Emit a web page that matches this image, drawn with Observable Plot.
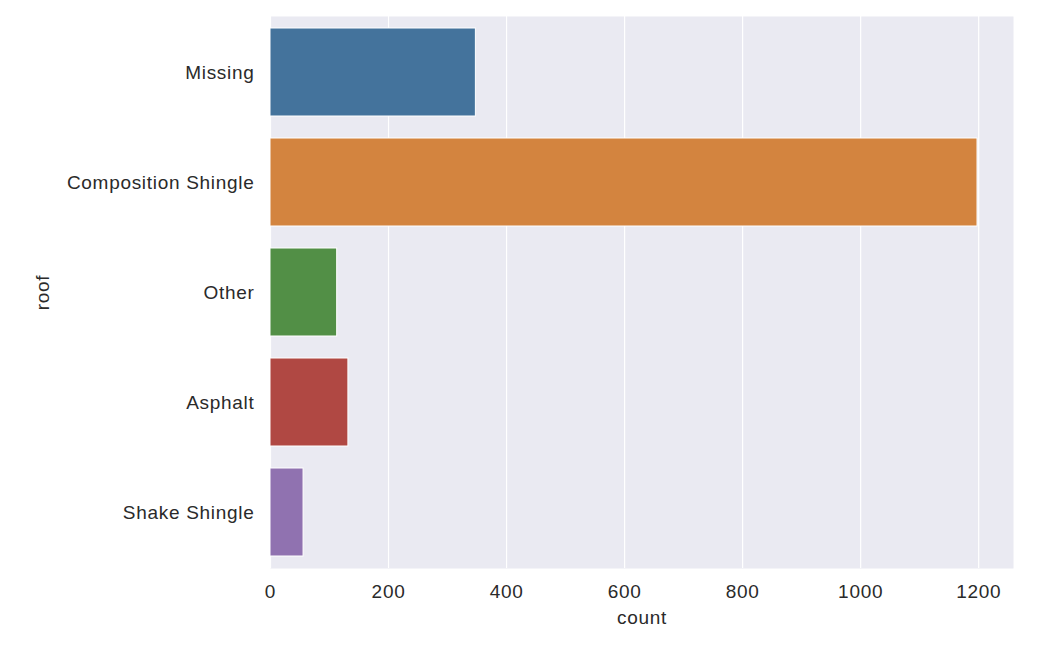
<!DOCTYPE html>
<html>
<head>
<meta charset="utf-8">
<script src="https://cdn.jsdelivr.net/npm/d3@7"></script>
<script src="https://cdn.jsdelivr.net/npm/@observablehq/plot@0.6"></script>
<style>
  html, body { margin: 0; padding: 0; background: #ffffff; }
  #chart svg { display: block; }
</style>
</head>
<body>
<div id="chart"></div>
<script>
const categories = ["Missing", "Composition Shingle", "Other", "Asphalt", "Shake Shingle"];
const counts = [348, 1198, 113, 132, 56];
const colors = ["#44739c", "#d3843f", "#528f46", "#b04843", "#9072b0"];
const xTicks = [0, 200, 400, 600, 800, 1000, 1200];
const xMax = 1259;

const data = categories.map((c, i) => ({roof: c, count: counts[i]}));

const chart = Plot.plot({
  width: 1054,
  height: 662,
  marginLeft: 270,
  marginRight: 41,
  marginTop: 16,
  marginBottom: 94,
  style: {
    fontFamily: "'Liberation Sans', Arial, sans-serif",
    fontSize: "19px",
    color: "#2a2a2a",
    background: "#ffffff",
    letterSpacing: "0.7px"
  },
  x: {domain: [0, xMax]},
  y: {domain: categories, paddingInner: 0.2, paddingOuter: 0.1},
  color: {domain: categories, range: colors},
  marks: [
    Plot.frame({fill: "#eaeaf2", stroke: null}),
    Plot.gridX(xTicks, {stroke: "#ffffff", strokeOpacity: 1, strokeWidth: 1.2}),
    Plot.barX(data, {x: "count", y: "roof", fill: "roof", stroke: "#ffffff", strokeWidth: 1}),
    Plot.axisX({ticks: xTicks, tickFormat: d => String(d), tickSize: 0, tickPadding: 16, label: "count", labelAnchor: "center", labelArrow: "none", labelOffset: 55, fill: "#2a2a2a"}),
    Plot.axisY({tickSize: 0, tickPadding: 16, label: "roof", labelAnchor: "center", labelArrow: "none", labelOffset: 235, fill: "#2a2a2a"})
  ]
});
document.getElementById("chart").appendChild(chart);
</script>
</body>
</html>
